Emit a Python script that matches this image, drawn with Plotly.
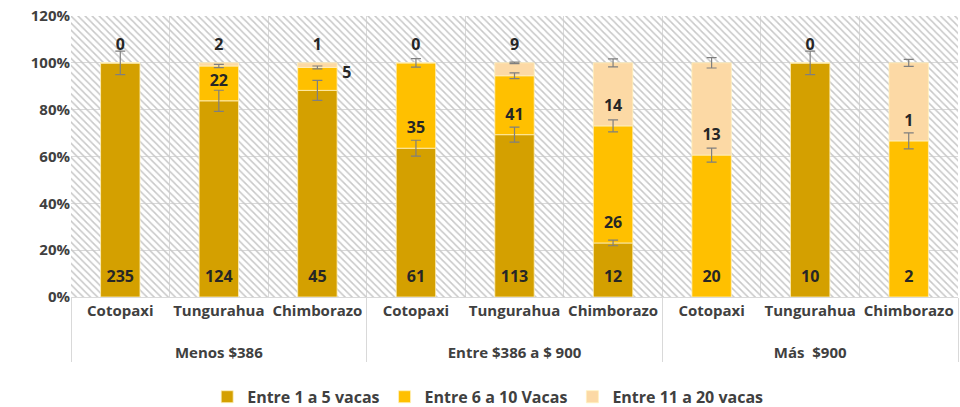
import plotly.graph_objects as go

# ---- data ----------------------------------------------------------------
ingresos = ["Menos $386"] * 3 + ["Entre $386 a $ 900"] * 3 + ["Más  $900"] * 3
provincias = ["Cotopaxi", "Tungurahua", "Chimborazo"] * 3

series = ["Entre 1 a 5 vacas", "Entre 6 a 10 Vacas", "Entre 11 a 20 vacas"]
colors = ["#D4A000", "#FFC000", "#FCD9A5"]

vacas_1_5 = [235, 124, 45, 61, 113, 12, 0, 10, 0]
vacas_6_10 = [0, 22, 5, 35, 41, 26, 20, 0, 2]
vacas_11_20 = [0, 2, 1, 0, 9, 14, 13, 0, 1]

# error bar half-width in percentage points (None = no error bar)
err_1_5 = [5, 4.5, 4.3, 3.4, 3.2, 1.2, None, 5, None]
err_6_10 = [None, 0.7, 0.6, 1.8, 1.2, 2.6, 3.0, None, 3.4]
err_11_20 = [None, None, None, None, 0.3, 1.7, 2.2, None, 1.5]

counts = [vacas_1_5, vacas_6_10, vacas_11_20]
errors = [err_1_5, err_6_10, err_11_20]

# ---- derived shares (100% stacked) -----------------------------------------
totals = [sum(c) for c in zip(*counts)]
shares = [[100 * v / t for v, t in zip(c, totals)] for c in counts]

bases, tops = [], []
b = [0] * 9
for sh in shares:
    bases.append(list(b))
    b = [p + q for p, q in zip(b, sh)]
    tops.append(list(b))

# group labels get a leading line break to sit lower, as in the original
x = [["<br>" + g for g in ingresos], provincias]
FONT = "Open Sans"
fig = go.Figure()

# hatched plot background (full-width bars behind everything)
fig.add_trace(go.Bar(
    x=x, y=[120] * 9, width=1, marker_color="rgba(0,0,0,0)",
    marker_line_width=0,
    marker_pattern=dict(shape="\\", size=5, solidity=0.3, fillmode="overlay",
                        fgcolor="#C8C8C8", fgopacity=1),
    showlegend=False, hoverinfo="skip",
))

for name, col, sh, bs in zip(series, colors, shares, bases):
    fig.add_trace(go.Bar(
        x=x, y=sh, base=bs, width=0.4, name=name, marker_color=col,
        marker_line=dict(color="#FFF1BF", width=0.8),
        hoverinfo="skip",
    ))

# error bars at the top of each stacked segment
for s in range(3):
    err = errors[s]
    fig.add_trace(go.Scatter(
        x=x,
        y=[t if e is not None else None for t, e in zip(tops[s], err)],
        mode="markers", marker=dict(size=1, opacity=0),
        error_y=dict(type="data", array=[e if e is not None else 0 for e in err],
                     color="#7F7F7F", thickness=1.2, width=5),
        showlegend=False, hoverinfo="skip",
    ))

# data labels (counts)
for s in range(3):
    ly, lt, lp = [], [], []
    for i in range(9):
        seg = shares[s][i]
        n = counts[s][i]
        if s == 2 and seg < 10:
            ly.append(107); lt.append(str(n)); lp.append("middle center")
        elif n == 0:
            ly.append(None); lt.append(""); lp.append("middle center")
        elif seg < 12:
            ly.append(bases[s][i] + 7); lt.append("\u00a0" * 6 + str(n)); lp.append("middle right")
        else:
            ly.append(bases[s][i] + 8); lt.append(str(n)); lp.append("middle center")
    fig.add_trace(go.Scatter(
        x=x, y=ly, text=lt, mode="text", textposition=lp,
        textfont=dict(family=FONT, size=16, color="#262626", weight="bold"),
        showlegend=False, hoverinfo="skip",
    ))

tick_font = dict(family=FONT, size=15, color="#404040", weight="bold")

fig.update_layout(
    width=960, height=407,
    margin=dict(l=71, r=2, t=16, b=110, autoexpand=False),
    barmode="overlay",
    paper_bgcolor="white", plot_bgcolor="white",
    legend=dict(orientation="h", xref="container", x=0.508, xanchor="center",
                yref="container", y=0.025, yanchor="middle",
                font=dict(family=FONT, size=16, color="#404040", weight="bold"),
                itemwidth=30, traceorder="normal"),
    showlegend=True,
)
fig.update_xaxes(
    tickson="boundaries", showgrid=True, gridcolor="#D9D9D9", gridwidth=1,
    showline=True, linecolor="#D9D9D9", ticks="", tickangle=0,
    showdividers=True, dividercolor="#D9D9D9", dividerwidth=1,
    tickfont=tick_font, automargin=False,
)
fig.update_yaxes(
    range=[0, 120], dtick=20, ticksuffix="%", showgrid=True,
    gridcolor="#D9D9D9", gridwidth=1, zeroline=False, showline=False,
    tickfont=tick_font, automargin=False,
)

# the page body has a default 8px margin; drop it so the figure fills the window
fig.write_html("out.html", config={"displayModeBar": False},
               post_script="document.body.style.margin='0';")
